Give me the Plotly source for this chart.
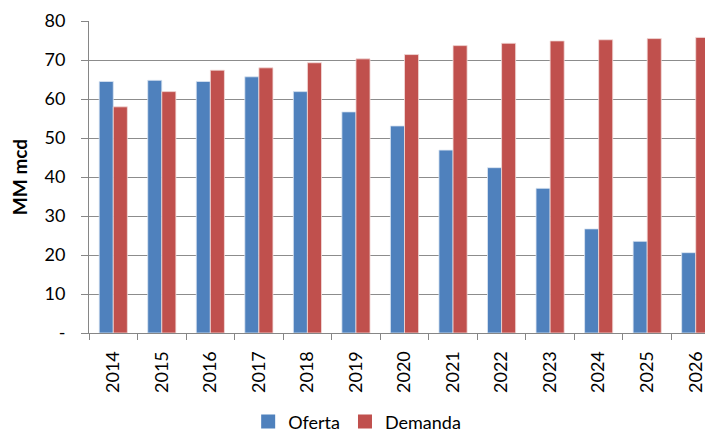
import plotly.graph_objects as go

years = ["2014", "2015", "2016", "2017", "2018", "2019", "2020",
         "2021", "2022", "2023", "2024", "2025", "2026"]
oferta = [64.5, 64.8, 64.5, 65.7, 61.9, 56.7, 53.1, 46.9, 42.4, 37.1, 26.7, 23.5, 20.6]
demanda = [58.0, 61.9, 67.4, 68.0, 69.3, 70.3, 71.4, 73.7, 74.3, 74.9, 75.2, 75.5, 75.8]
y_tickvals = [0, 10, 20, 30, 40, 50, 60, 70, 80]
y_ticktext = ["-", "10", "20", "30", "40", "50", "60", "70", "80"]

FONT = "Lato, 'Open Sans', sans-serif"
BLUE = "#4F81BD"
RED = "#C0504D"

fig = go.Figure()
fig.add_trace(go.Bar(x=years, y=oferta, name="Oferta", showlegend=False,
                     marker=dict(color=BLUE, line=dict(color="#DCE6F2", width=0.8))))
fig.add_trace(go.Bar(x=years, y=demanda, name="Demanda", showlegend=False,
                     marker=dict(color=RED, line=dict(color="#F2DCDB", width=0.8))))
# legend entries (larger square swatches)
fig.add_trace(go.Scatter(x=[None], y=[None], mode="markers", name="Oferta",
                         marker=dict(symbol="square", size=14, color=BLUE)))
fig.add_trace(go.Scatter(x=[None], y=[None], mode="markers", name="Demanda",
                         marker=dict(symbol="square", size=14, color=RED)))

fig.update_layout(
    width=713, height=433,
    margin=dict(l=81, r=1, t=11, b=108),
    paper_bgcolor="white", plot_bgcolor="white",
    font=dict(family=FONT, color="#000000", size=18),
    barmode="group", bargap=0.42, bargroupgap=0,
    showlegend=True,
    legend=dict(orientation="h", x=0.425, xanchor="center", y=-0.285, yanchor="middle",
                font=dict(size=18), itemwidth=30, tracegroupgap=0),
)
fig.update_xaxes(
    type="category", tickangle=-90,
    showline=True, linecolor="#868686", linewidth=1,
    ticks="outside", tickson="boundaries", ticklen=6, tickcolor="#868686",
    showgrid=False, tickfont=dict(size=18), ticklabelstandoff=10,
)
fig.update_yaxes(
    range=[0, 80.01], tickvals=y_tickvals, ticktext=y_ticktext,
    showline=True, linecolor="#868686", linewidth=1,
    ticks="outside", ticklen=7, tickcolor="#868686",
    showgrid=True, gridcolor="#8C8C8C", gridwidth=1,
    tickfont=dict(size=18), ticklabelstandoff=12, ticklabeloverflow="allow",
    title=dict(text="<b>MM mcd</b>", font=dict(size=19), standoff=14),
)

fig.write_html("out.html")
